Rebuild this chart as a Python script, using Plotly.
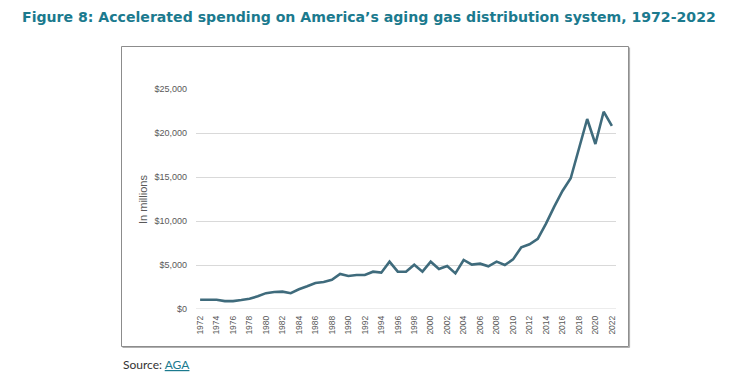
import plotly.graph_objects as go

years = list(range(1972, 2023))
spending = [1050, 1050, 1050, 900, 900, 1020, 1170, 1440, 1800, 1930, 1970, 1800,
            2240, 2580, 2950, 3070, 3330, 3980, 3750, 3860, 3860, 4240, 4130, 5380,
            4240, 4240, 5040, 4240, 5380, 4550, 4880, 4050, 5570, 5040, 5150, 4850,
            5380, 5000, 5640, 7010, 7350, 7960, 9700, 11630, 13410, 14850, 18370,
            21590, 18750, 22420, 20800]
tick_years = list(range(1972, 2023, 2))
y_ticks = [0, 5000, 10000, 15000, 20000, 25000]
y_labels = ["$0", "$5,000", "$10,000", "$15,000", "$20,000", "$25,000"]

OFF = 8  # page body margin
W, H = 743 - OFF, 376 - OFF
L, R, T, B = 196 - OFF, 616 - OFF, 89 - OFF, 309 - OFF

def px(x):
    return (x - OFF - L) / (R - L)

def py(y):
    return (B - (y - OFF)) / (B - T)

fig = go.Figure()
fig.add_trace(go.Scatter(x=years, y=spending, mode="lines",
                         line=dict(color="#3f6b7c", width=2.6),
                         hoverinfo="x+y", showlegend=False))

gray = "#595959"
fig.update_layout(
    width=W, height=H,
    margin=dict(l=L, r=W - R, t=T, b=H - B, pad=0),
    paper_bgcolor="white", plot_bgcolor="white",
    title=dict(text="<b>Figure 8: Accelerated spending on America’s aging gas distribution system, 1972-2022</b>",
               x=(22 - OFF) / W, y=1 - (17 - OFF) / H, xref="container", yref="container",
               xanchor="left", yanchor="middle",
               font=dict(family="DejaVu Sans", size=14.1, color="#1b7a8e")),
    xaxis=dict(range=[1971.5, 2022.5], tickmode="array", tickvals=tick_years,
               ticktext=[str(y) for y in tick_years], tickangle=-90,
               showgrid=False, zeroline=False, showline=False, ticks="",
               tickfont=dict(family="Liberation Sans", size=8.5, color=gray),
               ticklabelstandoff=4),
    yaxis=dict(range=[0, 25000], tickmode="array", tickvals=y_ticks, ticktext=y_labels,
               showgrid=True, gridcolor="#d9d9d9", gridwidth=1,
               zeroline=False, showline=False, ticks="",
               tickfont=dict(family="Liberation Sans", size=9, color=gray),
               ticklabelstandoff=8),
    font=dict(family="Liberation Sans"),
)

# frame box with slight shadow
fig.add_shape(type="rect", xref="paper", yref="paper", x0=px(121.5), x1=px(628.5),
              y0=py(346.5), y1=py(46.5),
              line=dict(color="#8c8c8c", width=1), layer="below")
fig.add_shape(type="line", xref="paper", yref="paper", x0=px(629.5), x1=px(629.5),
              y0=py(347.5), y1=py(47.5), line=dict(color="#b0b0b0", width=1.2))
fig.add_shape(type="line", xref="paper", yref="paper", x0=px(122.5), x1=px(629.5),
              y0=py(347.5), y1=py(347.5), line=dict(color="#b0b0b0", width=1.2))
# baseline gridline at zero
fig.add_shape(type="line", xref="paper", yref="y", x0=0, x1=1, y0=0, y1=0,
              line=dict(color="#d9d9d9", width=1), layer="below")

fig.add_annotation(text="In millions", xref="paper", yref="paper",
                   x=px(143), y=py(200), textangle=-90, showarrow=False,
                   xanchor="center", yanchor="middle",
                   font=dict(family="Liberation Sans", size=11, color=gray))

fig.add_annotation(text="Source: <a href='https://www.aga.org' style='color:#1b7a8e;text-decoration:underline'>AGA</a>",
                   xref="paper", yref="paper", x=px(121), y=py(364),
                   xanchor="left", yanchor="middle", showarrow=False,
                   font=dict(family="Lato", size=12, color="#333333"))

fig.write_html("out.html")
